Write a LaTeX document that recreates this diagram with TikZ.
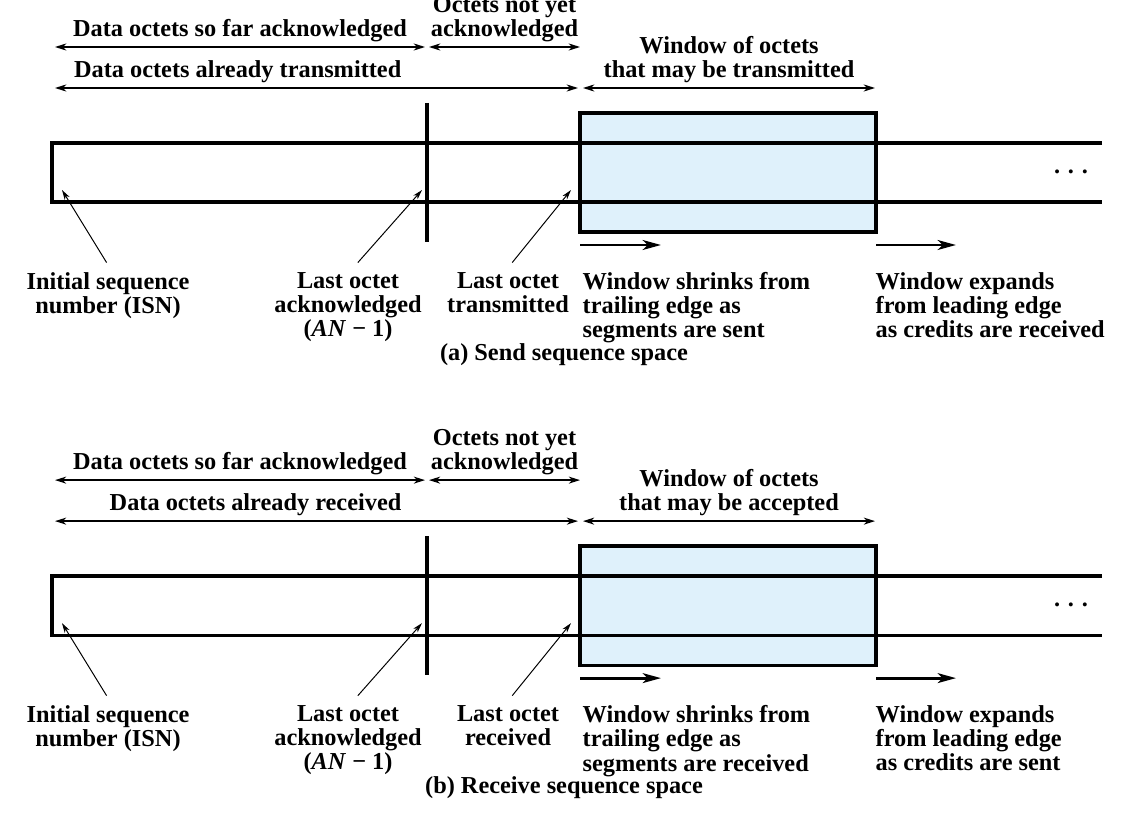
\documentclass[tikz,border=0pt]{standalone}
\usepackage{fontspec}
\setmainfont{Liberation Serif}
\usetikzlibrary{arrows.meta}
\definecolor{winblue}{RGB}{223,241,251}
\newcommand{\moredots}{.\hspace{5.6pt}.\hspace{5.6pt}.}
\begin{document}
\begin{tikzpicture}[
  x=0.025cm, y=-0.025cm,
  every node/.style={
    font=\bfseries\fontsize{17.3}{17.1}\selectfont,
    inner sep=1pt
  },
  octetlabel/.style={align=center, anchor=north},
  notelabel/.style={align=left, anchor=north west},
  spanarrow/.style={{Stealth[length=8pt,width=5pt,inset=2.5pt]}-{Stealth[length=8pt,width=5pt,inset=2.5pt]}, line width=1.05pt},
  pointarrow/.style={-{Stealth[length=7pt,width=4pt,inset=2pt]}, line width=0.7pt},
  slidearrow/.style={-{Stealth[length=13pt,width=7pt,inset=3.5pt]}, line width=2pt},
  stripline/.style={line width=2.3pt},
  winbox/.style={line width=2.3pt},
  barline/.style={line width=3pt}
]
\useasboundingbox (0,0) rectangle (1130,827);

% (a) send side
\fill[winblue] (580,113) rectangle (876,232);
\draw[stripline] (1102,143) -- (52,143) -- (52,202) -- (1102,202);
\draw[winbox] (580,113) rectangle (876,232);
\draw[barline] (427,103) -- (427,242);
\node (sdots) at (1071,172) {\moredots};

\coordinate (sa0) at (55,47);  \coordinate (sa1) at (425,47);
\coordinate (sa2) at (429,47); \coordinate (sa3) at (580,47);
\coordinate (sb0) at (55,88);  \coordinate (sb1) at (578,88);
\coordinate (sb2) at (583,88); \coordinate (sb3) at (875,88);
\draw[spanarrow] (sa0) -- (sa1) node[midway, above=2pt] (sackd) {Data octets so far acknowledged};
\draw[spanarrow] (sa2) -- (sa3) node[midway, above=2pt, align=center] (snotackd) {Octets not yet\\acknowledged};
\draw[spanarrow] (sb0) -- (sb1);
\node[anchor=south east] (ssent) at (403,84) {Data octets already transmitted};
\draw[spanarrow] (sb2) -- (sb3) node[midway, above=2pt, align=center] (swin) {Window of octets\\that may be transmitted};

\coordinate (ss0) at (580,245); \coordinate (ss1) at (661,245);
\coordinate (se0) at (876,245); \coordinate (se1) at (956,245);
\draw[slidearrow] (ss0) -- (ss1);
\draw[slidearrow] (se0) -- (se1);

\node[octetlabel] (sisn) at (108,271) {Initial sequence\\number (ISN)};
\node[octetlabel] (slastack) at (348,271) {Last octet\\acknowledged\\(\textit{AN} − 1)};
\node[octetlabel] (slastsent) at (508,271) {Last octet\\transmitted};
\node[notelabel] (sshrink) at (581,271) {Window shrinks from\\trailing edge as\\segments are sent};
\node[notelabel] (sexpand) at (874,271) {Window expands\\from leading edge\\as credits are received};
\coordinate (sisnpt) at (62,190);
\coordinate (sackpt) at (422,190);
\coordinate (ssentpt) at (571,190);
\draw[pointarrow] ([xshift=-1pt,yshift=6pt]sisn.north) -- (sisnpt);
\draw[pointarrow] ([xshift=7pt,yshift=6pt]slastack.north) -- (sackpt);
\draw[pointarrow] ([xshift=3pt,yshift=6pt]slastsent.north) -- (ssentpt);
\node (scap) at (564,355) {(a) Send sequence space};

% (b) receive side
\begin{scope}[yshift=-10.825cm]
\fill[winblue] (580,113) rectangle (876,232);
\draw[stripline] (1102,143) -- (52,143) -- (52,202) -- (1102,202);
\draw[winbox] (580,113) rectangle (876,232);
\draw[barline] (427,103) -- (427,242);
\node (rdots) at (1071,172) {\moredots};

\coordinate (ra0) at (55,47);  \coordinate (ra1) at (425,47);
\coordinate (ra2) at (429,47); \coordinate (ra3) at (580,47);
\coordinate (rb0) at (55,88);  \coordinate (rb1) at (578,88);
\coordinate (rb2) at (583,88); \coordinate (rb3) at (875,88);
\draw[spanarrow] (ra0) -- (ra1) node[midway, above=2pt] (rackd) {Data octets so far acknowledged};
\draw[spanarrow] (ra2) -- (ra3) node[midway, above=2pt, align=center] (rnotackd) {Octets not yet\\acknowledged};
\draw[spanarrow] (rb0) -- (rb1);
\node[anchor=south east] (rgot) at (403,84) {Data octets already received};
\draw[spanarrow] (rb2) -- (rb3) node[midway, above=2pt, align=center] (rwin) {Window of octets\\that may be accepted};

\coordinate (rs0) at (580,245); \coordinate (rs1) at (661,245);
\coordinate (re0) at (876,245); \coordinate (re1) at (956,245);
\draw[slidearrow] (rs0) -- (rs1);
\draw[slidearrow] (re0) -- (re1);

\node[octetlabel] (risn) at (108,271) {Initial sequence\\number (ISN)};
\node[octetlabel] (rlastack) at (348,271) {Last octet\\acknowledged\\(\textit{AN} − 1)};
\node[octetlabel] (rlastgot) at (508,271) {Last octet\\received};
\node[notelabel] (rshrink) at (581,271) {Window shrinks from\\trailing edge as\\segments are received};
\node[notelabel] (rexpand) at (874,271) {Window expands\\from leading edge\\as credits are sent};
\coordinate (risnpt) at (62,190);
\coordinate (rackpt) at (422,190);
\coordinate (rgotpt) at (571,190);
\draw[pointarrow] ([xshift=-1pt,yshift=6pt]risn.north) -- (risnpt);
\draw[pointarrow] ([xshift=7pt,yshift=6pt]rlastack.north) -- (rackpt);
\draw[pointarrow] ([xshift=3pt,yshift=6pt]rlastgot.north) -- (rgotpt);
\node (rcap) at (564,355) {(b) Receive sequence space};
\end{scope}
\end{tikzpicture}
\end{document}
